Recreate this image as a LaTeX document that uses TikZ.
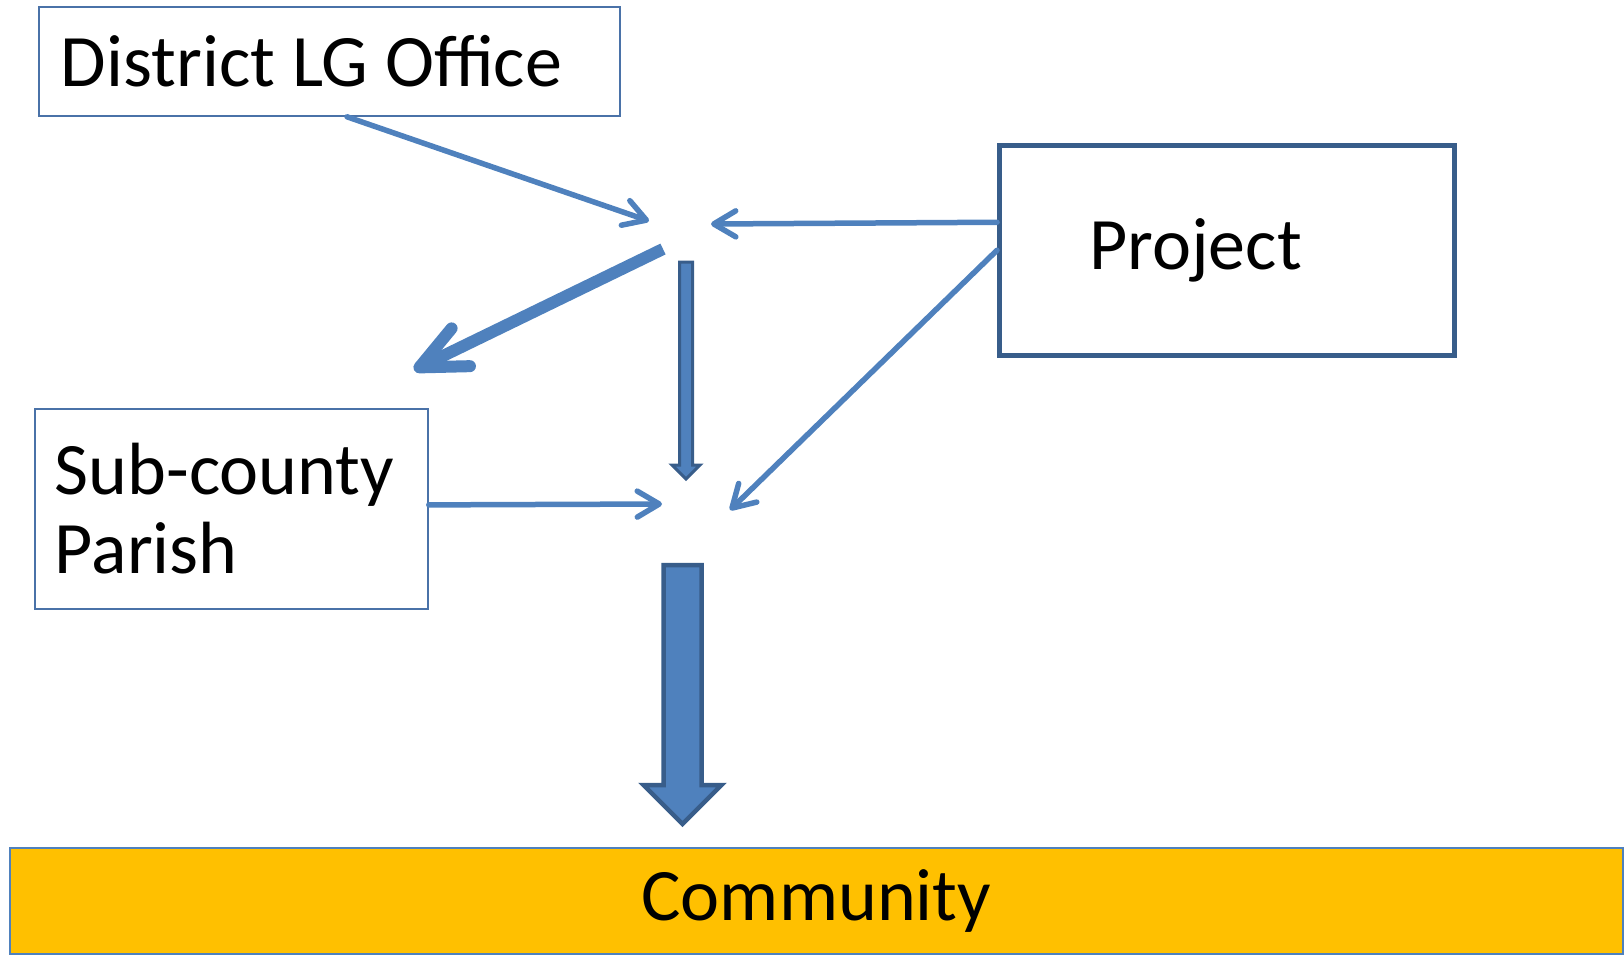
\documentclass[tikz,border=0pt]{standalone}
\usepackage{fontspec}
\setmainfont{Carlito}
\usetikzlibrary{arrows.meta,calc}
\definecolor{lineblue}{HTML}{4F81BD}
\definecolor{darkblue}{HTML}{385D8A}
\definecolor{boxblue}{HTML}{4A72A8}
\definecolor{gold}{HTML}{FFC000}
\begin{document}
\begin{tikzpicture}[x=1pt,y=-1pt,
  box/.style={draw=boxblue, line width=1.8pt, fill=white, rectangle, anchor=north west,
     font=\fontsize{74}{79}\selectfont, align=left, inner ysep=0pt},
  conn/.style={draw=lineblue, line width=5.5pt, line cap=round,
     -{Straight Barb[round,length=22pt,width=26pt]}},
  thickconn/.style={draw=lineblue, line width=12pt,
     -{Straight Barb[round,length=46pt,width=42pt]}},
  blockarrow/.style={draw=darkblue, fill=lineblue, line join=miter}
]
\useasboundingbox (0,0) rectangle (1624,954);

% boxes
\node[box, minimum width=581pt, minimum height=109pt, inner xsep=22pt, text width=537pt]
  (dist) at (38,6) {\spaceskip=0.23em\relax District LG Office};
\node[box, draw=darkblue, line width=4.5pt, minimum width=455pt, minimum height=210pt,
  inner xsep=90pt, text width=275pt] (proj) at (997,143) {Project};
\node[box, minimum width=393pt, minimum height=200pt, inner xsep=20pt, text width=353pt]
  (sub) at (34,408) {Sub-county\\Parish};
\node[box, draw=lineblue, fill=gold, minimum width=1613pt, minimum height=106pt,
  inner xsep=0pt, text width=1613pt, align=center] (comm) at (9,847) {Community};

% hub points
\coordinate (t1) at (649,221);
\coordinate (t2) at (711,224);
\coordinate (s3) at (663,249);
\coordinate (t3) at (414,370);
\coordinate (t5) at (662,504);
\coordinate (t6) at (730,510);
\coordinate (v1) at (686,262);
\coordinate (v2) at (686,479);
\coordinate (b1) at (682.5,565);
\coordinate (b2) at (682.5,824);

% connectors
\draw[conn] ([xshift=309pt]dist.south west) -- (t1);
\draw[conn] ([yshift=28pt]proj.west) -- (t2);
\draw[conn] (proj.west) -- (t6);
\draw[conn] ([yshift=4pt]sub.east) -- (t5);
\draw[thickconn] (s3) -- (t3);

% narrow block arrow
\draw[blockarrow, line width=3pt]
  ($(v1)+(-6.5,0)$) -- ($(v1)+(6.5,0)$) -- ($(v2)+(6.5,-14)$) -- ($(v2)+(14,-14)$)
  -- (v2) -- ($(v2)+(-14,-14)$) -- ($(v2)+(-6.5,-14)$) -- cycle;

% big block arrow
\draw[blockarrow, line width=4.5pt]
  ($(b1)+(-19,0)$) -- ($(b1)+(19,0)$) -- ($(b2)+(19,-39)$) -- ($(b2)+(39,-39)$)
  -- (b2) -- ($(b2)+(-39,-39)$) -- ($(b2)+(-19,-39)$) -- cycle;
\end{tikzpicture}
\end{document}
